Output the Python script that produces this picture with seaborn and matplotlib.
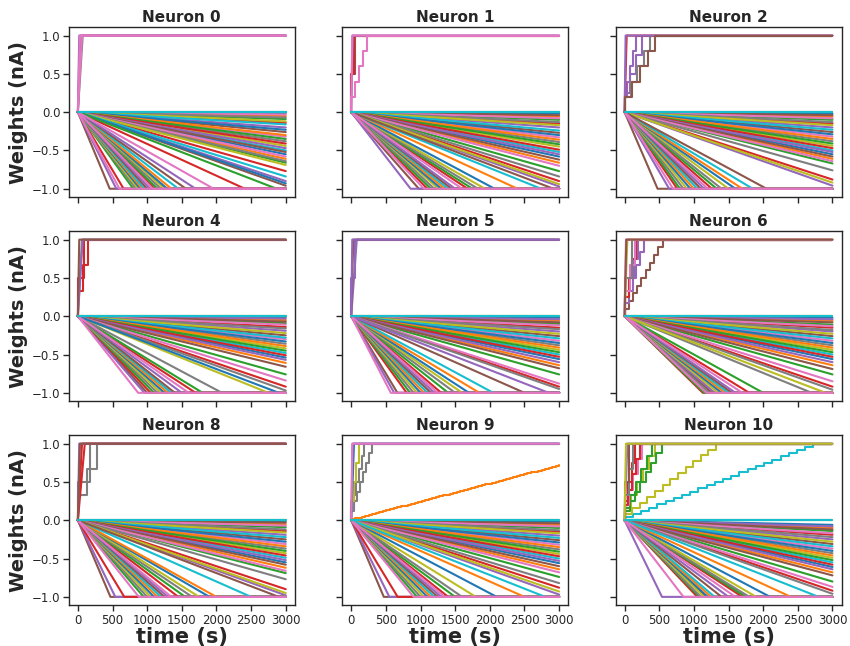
import pandas as pd
import matplotlib
matplotlib.use("Agg")
import matplotlib.pyplot as plt
import seaborn as sns

T_END = 3000

titles = ["Neuron 0", "Neuron 1", "Neuron 2",
          "Neuron 4", "Neuron 5", "Neuron 6",
          "Neuron 8", "Neuron 9", "Neuron 10"]

# Negative synapses that have not saturated: weight reached at t = 3000 s
end_0 = [-0.01, -0.03, -0.05, -0.07, -0.09, -0.12, -0.14, -0.16, -0.2, -0.23, -0.26, -0.3, -0.32,
         -0.35, -0.38, -0.41, -0.44, -0.47, -0.5, -0.52, -0.55, -0.58, -0.61, -0.64, -0.66, -0.69,
         -0.77, -0.84, -0.9, -0.93, -0.96]
end_1 = [-0.02, -0.04, -0.06, -0.08, -0.1, -0.13, -0.15, -0.17, -0.2, -0.24, -0.27, -0.3, -0.33,
         -0.36, -0.39, -0.42, -0.45, -0.49, -0.52, -0.55, -0.58, -0.62, -0.66, -0.7, -0.77, -0.84,
         -0.9, -0.94, -0.97]
end_2 = [-0.02, -0.04, -0.06, -0.08, -0.1, -0.13, -0.15, -0.17, -0.2, -0.23, -0.26, -0.29, -0.32,
         -0.35, -0.38, -0.41, -0.44, -0.47, -0.5, -0.52, -0.55, -0.58, -0.61, -0.64, -0.67, -0.76,
         -0.88, -0.92, -0.96]
end_4 = [-0.01, -0.03, -0.05, -0.07, -0.09, -0.11, -0.14, -0.16, -0.19, -0.22, -0.25, -0.28, -0.3,
         -0.33, -0.36, -0.39, -0.42, -0.45, -0.48, -0.51, -0.54, -0.57, -0.61, -0.66, -0.76, -0.84,
         -0.92, -0.97]
end_5 = [-0.02, -0.04, -0.06, -0.08, -0.1, -0.12, -0.15, -0.17, -0.2, -0.23, -0.26, -0.29, -0.32,
         -0.35, -0.38, -0.41, -0.44, -0.47, -0.5, -0.53, -0.56, -0.6, -0.64, -0.68, -0.76, -0.88,
         -0.92, -0.95]
end_6 = [-0.02, -0.04, -0.06, -0.08, -0.11, -0.13, -0.15, -0.18, -0.2, -0.23, -0.26, -0.29, -0.32,
         -0.35, -0.38, -0.41, -0.44, -0.47, -0.5, -0.53, -0.56, -0.6, -0.64, -0.69, -0.76, -0.85,
         -0.92, -0.96]
end_8 = [-0.01, -0.03, -0.05, -0.07, -0.09, -0.12, -0.14, -0.16, -0.19, -0.22, -0.25, -0.28, -0.31,
         -0.34, -0.37, -0.4, -0.43, -0.46, -0.49, -0.52, -0.55, -0.58, -0.62, -0.66, -0.69, -0.77,
         -0.9, -0.95, -0.98]
end_9 = [-0.02, -0.04, -0.06, -0.08, -0.1, -0.13, -0.15, -0.17, -0.2, -0.23, -0.26, -0.29, -0.32,
         -0.35, -0.38, -0.41, -0.44, -0.47, -0.5, -0.53, -0.56, -0.6, -0.64, -0.68, -0.74, -0.82,
         -0.88, -0.93, -0.97]
end_10 = [-0.06, -0.08, -0.1, -0.12, -0.14, -0.17, -0.19, -0.22, -0.25, -0.28, -0.31, -0.34, -0.37,
          -0.4, -0.43, -0.46, -0.49, -0.52, -0.55, -0.58, -0.61, -0.64, -0.68, -0.72, -0.8, -0.87,
          -0.92, -0.96]

# Negative synapses that saturate at -1 nA: time (s) at which -1 is reached
sat_0 = [460, 555, 600, 660, 800, 840, 870, 900, 930, 960, 1000, 1040, 1080, 1110, 1150, 1200,
         1250, 1290, 1350, 1450, 1560, 1700, 1960, 2410, 2870]
sat_1 = [976, 857, 1050, 1100, 1150, 1200, 1260, 1300, 1350, 1400, 1450, 1500, 1600, 1680, 1750,
         1830, 1930, 2070, 2400, 2740, 2920]
sat_2 = [476, 643, 700, 760, 800, 850, 900, 950, 1000, 1050, 1100, 1150, 1200, 1260, 1330, 1400,
         1500, 1600, 1700, 1850, 2050]
sat_4 = [1000, 960, 870, 1050, 1100, 1150, 1200, 1250, 1300, 1350, 1400, 1500, 1600, 1700, 1800,
         2080, 2750, 2900]
sat_5 = [667, 620, 571, 800, 850, 900, 950, 1000, 1050, 1100, 1150, 1200, 1250, 1300, 1400, 1500,
         1600, 1700, 1850, 2050, 2500, 2850]
sat_6 = [1260, 1300, 1180, 1129, 1150, 1220, 1350, 1400, 1450, 1500, 1550, 1600, 1700, 1800, 2000,
         2700, 2900]
sat_8 = [470, 540, 880, 670, 950, 1000, 1050, 1100, 1150, 1200, 1250, 1300, 1350, 1450, 1550, 1650,
         1750, 1900, 2000, 2500, 2900]
sat_9 = [470, 550, 900, 670, 950, 1000, 1050, 1100, 1150, 1200, 1250, 1300, 1350, 1400, 1500, 1600,
         1800, 2100, 2500, 2800]
sat_10 = [1180, 540, 850, 1050, 1080, 1100, 1150, 1200, 1250, 1300, 1400, 1500, 1600, 1700, 1750,
          1800, 1900, 2100, 2400, 2800]

# Potentiated synapses: (time the last step is reached, final weight, number of steps, colour)
rise_0 = [(70, 1.0, 1, "tab:gray"), (40, 1.0, 1, "tab:brown"), (20, 1.0, 1, "tab:purple"),
          (60, 1.0, 1, "tab:pink"), (30, 1.0, 1, "tab:pink")]
rise_1 = [(60, 1.0, 2, "tab:brown"), (40, 1.0, 2, "tab:red"), (20, 1.0, 1, "tab:purple"),
          (224, 1.0, 5, "tab:pink"), (15, 1.0, 1, "tab:pink")]
rise_2 = [(167, 1.0, 5, "tab:purple"), (248, 1.0, 4, "tab:purple"), (367, 1.0, 5, "tab:gray"),
          (30, 1.0, 1, "tab:red"), (15, 1.0, 1, "tab:purple"), (443, 1.0, 5, "tab:brown")]
rise_4 = [(140, 1.0, 3, "tab:red"), (90, 1.0, 2, "tab:red"), (60, 1.0, 1, "tab:gray"),
          (70, 1.0, 1, "tab:purple"), (20, 1.0, 1, "tab:brown")]
rise_5 = [(60, 1.0, 2, "tab:purple"), (80, 1.0, 1, "tab:purple"), (30, 1.0, 1, "tab:brown"),
          (15, 1.0, 1, "tab:purple")]
rise_6 = [(548, 1.0, 10, "tab:brown"), (286, 1.0, 6, "tab:purple"), (200, 1.0, 4, "tab:purple"),
          (170, 1.0, 4, "tab:red"), (150, 1.0, 3, "tab:pink"), (100, 1.0, 2, "tab:gray"),
          (40, 1.0, 1, "tab:olive"), (20, 1.0, 1, "tab:pink"), (25, 1.0, 1, "tab:brown")]
rise_8 = [(270, 1.0, 3, "tab:gray"), (170, 1.0, 2, "tab:gray"), (100, 1.0, 1, "tab:red"),
          (60, 1.0, 1, "tab:red"), (20, 1.0, 1, "tab:purple"), (30, 1.0, 1, "tab:brown")]
rise_9 = [(305, 1.0, 8, "tab:gray"), (186, 1.0, 6, "tab:gray"), (114, 1.0, 4, "tab:olive"),
          (40, 1.0, 1, "tab:blue"), (20, 1.0, 1, "tab:purple"), (3000, 0.72, 60, "tab:orange"),
          (15, 1.0, 1, "tab:pink")]
rise_10 = [(2724, 1.0, 24, "tab:cyan"), (1319, 1.0, 13, "tab:olive"), (438, 1.0, 6, "tab:olive"),
           (533, 1.0, 8, "tab:green"), (400, 1.0, 6, "tab:green"), (250, 1.0, 5, "tab:pink"),
           (224, 1.0, 5, "tab:red"), (150, 1.0, 4, "tab:red"), (120, 1.0, 3, "tab:gray"),
           (60, 1.0, 2, "tab:brown"), (40, 1.0, 1, "tab:purple"), (20, 1.0, 1, "tab:olive")]

# Synapses that stay at zero, drawn last
zero_colors_0 = ["tab:gray", "tab:green", "tab:cyan"]
zero_colors = ["tab:green", "tab:olive", "tab:cyan"]

panels = [
    (end_0, sat_0, rise_0, zero_colors_0), (end_1, sat_1, rise_1, zero_colors_0),
    (end_2, sat_2, rise_2, zero_colors_0), (end_4, sat_4, rise_4, zero_colors),
    (end_5, sat_5, rise_5, zero_colors), (end_6, sat_6, rise_6, zero_colors),
    (end_8, sat_8, rise_8, zero_colors), (end_9, sat_9, rise_9, zero_colors),
    (end_10, sat_10, rise_10, zero_colors),
]

end_cycle = sns.color_palette("tab10")
sat_cycle = sns.color_palette(["tab:brown", "tab:purple", "tab:pink", "tab:red", "tab:green",
                               "tab:gray", "tab:olive", "tab:blue", "tab:orange", "tab:cyan"])
PINK = sns.color_palette(["tab:pink"])[0]


def build_panel(ends, sats, rises, zeros):
    rows, palette, order = [], {}, []

    def add(name, ts, ws, color):
        order.append(name)
        palette[name] = color
        for i, (t, w) in enumerate(zip(ts, ws)):
            rows.append((name, i, t, w))

    # slowly depressing synapses: colours cycle across slopes
    mixed = ends[::2] + ends[1::2]
    for k, v in enumerate(mixed):
        add(f"e{k}", [0, T_END], [0, v], end_cycle[k % 10])

    # saturating synapses; pink ones end up on top of the -1 floor
    sat_lines = [(t, sat_cycle[k % 10]) for k, t in enumerate(sats)]
    sat_lines.sort(key=lambda s: s[1] == PINK)
    for k, (t, c) in enumerate(sat_lines):
        add(f"s{k}", [0, t, T_END], [0, -1, -1], c)

    # potentiated synapses, as ramps or staircases
    for j, (t_last, w_last, n, c) in enumerate(rises):
        if n == 1:
            ts, ws = [0, t_last, T_END], [0, w_last, w_last]
        else:
            dt = t_last / (n - 1)
            ts, ws = [0], [0]
            for s in range(1, n + 1):
                level = s * w_last / n
                ts += [(s - 1) * dt, min(s * dt, T_END)]
                ws += [level, level]
            ts.append(T_END)
            ws.append(w_last)
        add(f"p{j}", ts, ws, c)

    for j, c in enumerate(zeros):
        add(f"z{j}", [0, T_END], [0, 0], c)

    df = pd.DataFrame(rows, columns=["line", "idx", "t", "w"])
    return df, palette, order


sns.set_theme(style="ticks")
plt.rcParams["font.family"] = ["DejaVu Sans"]

fig, axes = plt.subplots(3, 3, figsize=(8.5, 6.46), dpi=100, sharex=True, sharey=True)
fig.subplots_adjust(left=0.081, right=0.99, top=0.958, bottom=0.063, wspace=0.21, hspace=0.2)

for ax, title, (ends, sats, rises, zeros) in zip(axes.flat, titles, panels):
    df, pal, order = build_panel(ends, sats, rises, zeros)
    sns.lineplot(data=df, x="t", y="w", hue="line", hue_order=order, palette=pal,
                 units="line", estimator=None, sort=False, legend=False,
                 linewidth=1.5, ax=ax)
    ax.set_title(title, fontsize=11, fontweight="bold", pad=4)
    ax.set_xlabel("")
    ax.set_ylabel("")
    for sp in ax.spines.values():
        sp.set_visible(True)
        sp.set_linewidth(1.0)
        sp.set_color("#262626")
    ax.tick_params(labelsize=8.5, length=4, width=1, pad=2, colors="#262626")

ax0 = axes[0, 0]
ax0.set_xlim(-130, 3130)
ax0.set_ylim(-1.11, 1.11)
ax0.set_xticks([0, 500, 1000, 1500, 2000, 2500, 3000])
ax0.set_yticks([-1.0, -0.5, 0.0, 0.5, 1.0])

for r in range(3):
    axes[r, 0].set_ylabel("Weights (nA)", fontsize=14, fontweight="bold", labelpad=3)
for c in range(3):
    axes[2, c].set_xlabel("time (s)", fontsize=15, fontweight="bold", labelpad=0)

fig.savefig("out.png", dpi=100)
